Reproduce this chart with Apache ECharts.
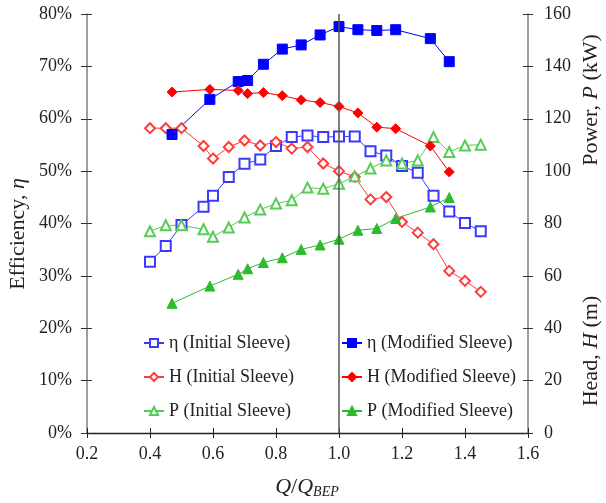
<!DOCTYPE html>
<html>
<head>
<meta charset="utf-8">
<script src="https://cdn.jsdelivr.net/npm/echarts@6/dist/echarts.min.js"></script>
<style>html,body{margin:0;padding:0;background:#fff}#c{width:606px;height:503px}</style>
</head>
<body>
<div id="c"></div>
<script>
// Initial sleeve (flow ratio Q/Q_BEP)
const qInit = [0.40,0.45,0.50,0.57,0.60,0.65,0.70,0.75,0.80,0.85,0.90,0.95,1.00,1.05,1.10,1.15,1.20,1.25,1.30,1.35,1.40,1.45];
const etaInit = [32.7,35.7,39.7,43.2,45.3,48.9,51.4,52.2,54.8,56.5,56.8,56.5,56.6,56.6,53.8,53.0,51.0,49.7,45.3,42.3,40.1,38.5];
const headInit = [116.4,116.4,116.4,109.6,104.8,109.2,111.7,109.8,111.1,108.6,109.2,102.9,100.0,97.8,89.2,90.1,80.6,76.5,72.1,61.9,58.1,53.9];
const powerInit = [77.0,79.3,79.3,77.8,74.9,78.5,82.3,85.3,87.6,88.9,93.7,93.3,95.2,98.0,101.0,104.1,102.9,104.1,113.0,107.3,109.8,110.1];
// Modified sleeve
const qMod = [0.47,0.59,0.68,0.71,0.76,0.82,0.88,0.94,1.00,1.06,1.12,1.18,1.29,1.35];
const etaMod = [57.0,63.7,67.1,67.3,70.4,73.3,74.1,76.0,77.6,77.0,76.85,77.0,75.3,70.9];
const headMod = [130.2,131.2,130.8,129.6,130.0,128.8,127.2,126.2,124.7,122.2,116.8,116.2,109.6,99.7];
const powerMod = [49.5,56.1,60.6,62.7,65.1,66.9,70.1,71.8,74.0,77.4,78.1,81.9,86.3,89.9];

const seriesNames = ['η (Initial Sleeve)','H (Initial Sleeve)','P (Initial Sleeve)','η (Modified Sleeve)','H (Modified Sleeve)','P (Modified Sleeve)'];
const xTicks = {min:0.2, max:1.6, interval:0.2};
const leftTicks = {min:0, max:80, interval:10};
const rightTicks = {min:0, max:160, interval:20};
const bepLine = 1.0;

const FONT = '"Liberation Serif","Times New Roman",serif';
const pair = (xs, ys) => xs.map((x, i) => [x, ys[i]]);

function mkSeries(name, q, vals, yIdx, symbol, color, extra) {
  return Object.assign({
    name: name, type: 'line', yAxisIndex: yIdx, data: pair(q, vals),
    symbol: symbol, symbolSize: 10, color: color,
    lineStyle: {color: color, width: 1},
    itemStyle: {color: color, borderColor: color, borderWidth: 1},
    emphasis: {disabled: true}, animation: false, z: 3
  }, extra || {});
}

const chart = echarts.init(document.getElementById('c'), null, {renderer: 'canvas'});
const axisLabelStyle = {fontFamily: FONT, fontSize: 18, color: '#222'};
const italicRich = {i: {fontFamily: FONT, fontSize: 22, fontStyle: 'italic', fill: '#222'}};
const option = {
  backgroundColor: '#fff',
  animation: false,
  grid: {left: 87, right: 78, top: 14, bottom: 70, containLabel: false, outerBoundsMode: 'none'},
  legend: [
    {data: seriesNames.slice(0,3), orient: 'vertical', left: 138, top: 329, itemWidth: 20, itemHeight: 10, itemGap: 16,
     textStyle: {fontFamily: FONT, fontSize: 18, color: '#222', lineHeight: 18}, selectedMode: false},
    {data: seriesNames.slice(3), orient: 'vertical', left: 336, top: 329, itemWidth: 20, itemHeight: 10, itemGap: 16,
     textStyle: {fontFamily: FONT, fontSize: 18, color: '#222', lineHeight: 18}, selectedMode: false}
  ],
  xAxis: [
    {type: 'value', min: xTicks.min, max: xTicks.max, interval: xTicks.interval,
     axisLine: {show: true, onZero: false, lineStyle: {color: '#222', width: 1.3}},
     axisTick: {show: true, inside: false, length: 5, lineStyle: {color: '#222'}},
     axisLabel: Object.assign({margin: 12, formatter: v => v.toFixed(1)}, axisLabelStyle),
     splitLine: {show: false}},
    {type: 'value', min: xTicks.min, max: xTicks.max, interval: xTicks.interval, position: 'bottom',
     axisLine: {show: false}, axisTick: {show: true, inside: true, length: 5, lineStyle: {color: '#222'}},
     axisLabel: {show: false}, splitLine: {show: false}}
  ],
  yAxis: [
    {type: 'value', position: 'left', min: leftTicks.min, max: leftTicks.max, interval: leftTicks.interval,
     axisLine: {show: true, lineStyle: {color: '#808080', width: 1.5}},
     axisTick: {show: true, inside: false, length: 6, lineStyle: {color: '#333'}},
     axisLabel: Object.assign({margin: 15, formatter: '{value}%'}, axisLabelStyle),
     splitLine: {show: false}},
    {type: 'value', position: 'right', min: rightTicks.min, max: rightTicks.max, interval: rightTicks.interval,
     axisLine: {show: true, lineStyle: {color: '#808080', width: 1.5}},
     axisTick: {show: true, inside: false, length: 5, lineStyle: {color: '#333'}},
     axisLabel: Object.assign({margin: 16}, axisLabelStyle),
     splitLine: {show: false}},
    {type: 'value', position: 'left', min: leftTicks.min, max: leftTicks.max, interval: leftTicks.interval,
     axisLine: {show: false}, axisTick: {show: true, inside: true, length: 5, lineStyle: {color: '#333'}},
     axisLabel: {show: false}, splitLine: {show: false}},
    {type: 'value', position: 'right', min: rightTicks.min, max: rightTicks.max, interval: rightTicks.interval,
     axisLine: {show: false}, axisTick: {show: true, inside: true, length: 5, lineStyle: {color: '#333'}},
     axisLabel: {show: false}, splitLine: {show: false}}
  ],
  graphic: [
    {type: 'text', x: 18, y: 234, rotation: Math.PI / 2, z: 10,
     style: {text: 'Efficiency, {i|η}', fontFamily: FONT, fontSize: 22, fill: '#222', align: 'center', verticalAlign: 'middle', rich: italicRich}},
    {type: 'text', x: 591, y: 100, rotation: Math.PI / 2, z: 10,
     style: {text: 'Power, {i|P} (kW)', fontFamily: FONT, fontSize: 22, fill: '#222', align: 'center', verticalAlign: 'middle', rich: italicRich}},
    {type: 'text', x: 591, y: 351, rotation: Math.PI / 2, z: 10,
     style: {text: 'Head, {i|H} (m)', fontFamily: FONT, fontSize: 22, fill: '#222', align: 'center', verticalAlign: 'middle', rich: italicRich}},
    {type: 'text', x: 307, y: 487, z: 10,
     style: {text: '{i|Q}/{i|Q}{s|BEP}', fontFamily: FONT, fontSize: 22, fill: '#222', align: 'center', verticalAlign: 'middle',
       rich: {i: {fontFamily: FONT, fontSize: 22, fontStyle: 'italic', fill: '#222'},
              s: {fontFamily: FONT, fontSize: 14, fontStyle: 'italic', fill: '#222', verticalAlign: 'bottom', padding: [10,0,0,0]}}}}
  ],
  series: [
    mkSeries(seriesNames[0], qInit, etaInit, 0, 'emptyRect', '#3a3aff', {
      markLine: {silent: true, symbol: ['none','none'], label: {show: false},
        lineStyle: {color: '#555', width: 1.5, type: 'solid'}, data: [{xAxis: bepLine}], animation: false}}),
    mkSeries(seriesNames[1], qInit, headInit, 1, 'emptyDiamond', '#ff3b3b'),
    mkSeries(seriesNames[2], qInit, powerInit, 1, 'emptyTriangle', '#55cc55'),
    mkSeries(seriesNames[3], qMod, etaMod, 0, 'rect', '#0000ff'),
    mkSeries(seriesNames[4], qMod, headMod, 1, 'diamond', '#ff0000'),
    mkSeries(seriesNames[5], qMod, powerMod, 1, 'triangle', '#2dbb2d')
  ]
};
chart.setOption(option);
</script>
</body>
</html>
